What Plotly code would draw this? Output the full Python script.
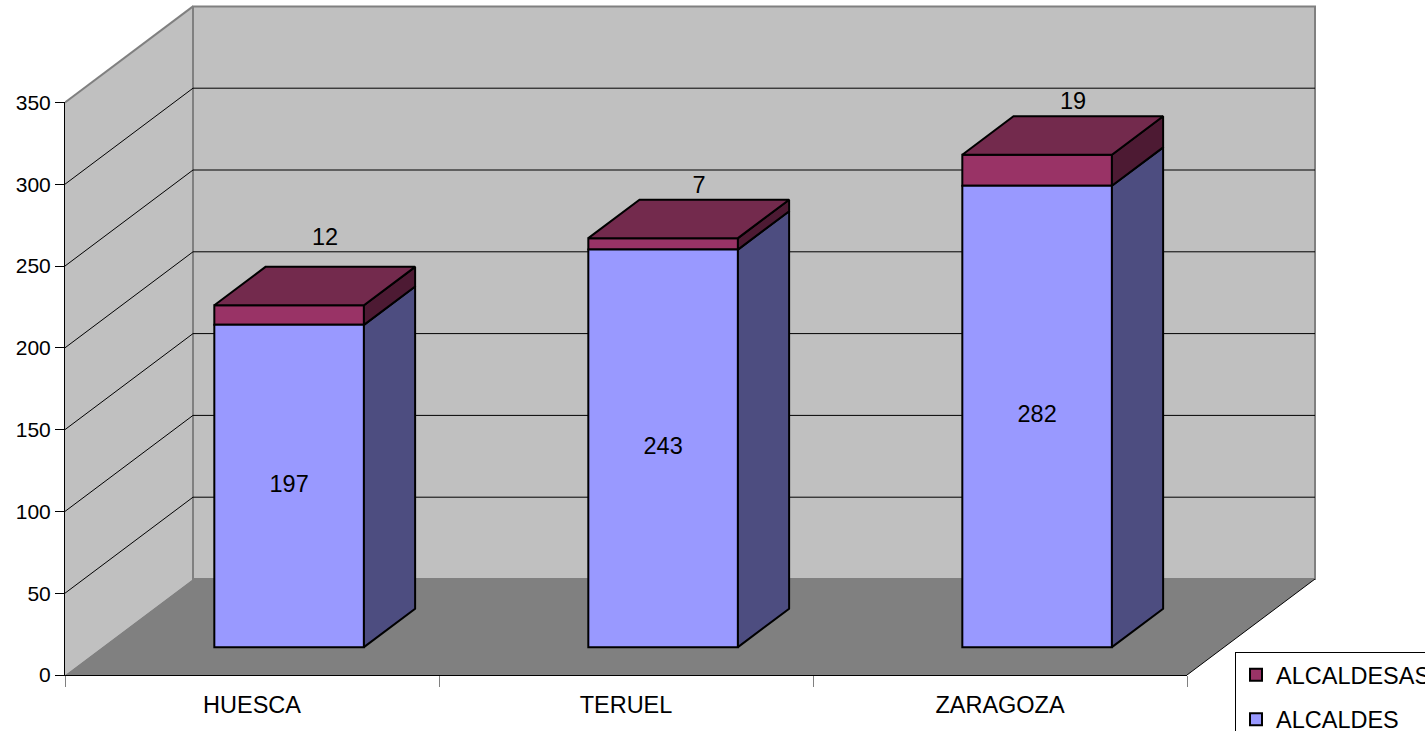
import plotly.graph_objects as go

# ---------------- data ----------------
categories = ["HUESCA", "TERUEL", "ZARAGOZA"]
alcaldes = [197, 243, 282]
alcaldesas = [12, 7, 19]
series_names = ["ALCALDES", "ALCALDESAS"]
y_ticks = [0, 50, 100, 150, 200, 250, 300, 350]
grid_vals = [50, 100, 150, 200, 250, 300]

# ---------------- geometry / style ----------------
W, H = 1425, 731
ML, MR, MT, MB = 65, 108, 4, 56
plot_w = W - ML - MR
plot_h = H - MT - MB
PXC = 374.0          # px per category
PXV = 1.636          # px per value unit
Dx = 128.0 / PXC     # full depth (x, category units)
Dy = 96.0 / PXV      # full depth (y, value units)
y_top = y_ticks[-1]
n = len(categories)
xr0, xr1 = -0.5, -0.5 + plot_w / PXC
yr0, yr1 = 0.0, plot_h / PXV
bw = 0.4
f0, f1 = 0.29, 0.69
ddx, ddy = (f1 - f0) * Dx, (f1 - f0) * Dy

FONT = "Liberation Sans, Arial, sans-serif"
FS = 23.5
C_ALC = "#9999ff"
C_ALC_SIDE = "#4d4d80"
C_ALS = "#993366"
C_ALS_SIDE = "#4d1a33"
C_ALS_TOP = "#732a4d"
lab_dx = 36.0 / PXC
lab_dy = 51.5 / PXV
label_nudge = [9.0, 0.0, 0.0]
inside_dy = 0.0

fig = go.Figure()

# ---------------- walls / floor (shapes below traces) ----------------
def path(pts):
    return "M " + " L ".join(f"{x},{y}" for x, y in pts) + " Z"

xl, xrgt = -0.5, n - 0.5
shapes = []
shapes.append(dict(type="path", xref="x", yref="y", layer="below",
                   path=path([(xl, 0), (xl, y_top), (xl + Dx, y_top + Dy), (xl + Dx, Dy)]),
                   fillcolor="#c0c0c0", line=dict(width=0)))
shapes.append(dict(type="path", xref="x", yref="y", layer="below",
                   path=path([(xl, 0), (xl + Dx, Dy), (xrgt + Dx, Dy), (xrgt, 0)]),
                   fillcolor="#808080", line=dict(width=0)))
shapes.append(dict(type="path", xref="x", yref="y", layer="below",
                   path=path([(xl + Dx, Dy), (xl + Dx, y_top + Dy), (xrgt + Dx, y_top + Dy), (xrgt + Dx, Dy)]),
                   fillcolor="#c0c0c0", line=dict(color="#808080", width=2)))
shapes.append(dict(type="line", xref="x", yref="y", layer="below",
                   x0=xl, y0=y_top, x1=xl + Dx, y1=y_top + Dy,
                   line=dict(color="#808080", width=2)))
shapes.append(dict(type="line", xref="x", yref="y", layer="below",
                   x0=xrgt, y0=0, x1=xrgt + Dx, y1=Dy,
                   line=dict(color="#000000", width=1)))
for v in grid_vals:
    shapes.append(dict(type="line", xref="x", yref="y", layer="below",
                       x0=xl, y0=v, x1=xl + Dx, y1=v + Dy,
                       line=dict(color="#000000", width=1)))
    shapes.append(dict(type="line", xref="x", yref="y", layer="below",
                       x0=xl + Dx, y0=v + Dy, x1=xrgt + Dx, y1=v + Dy,
                       line=dict(color="#000000", width=1)))

# ---------------- bars: front faces ----------------
xs_front = [i + f0 * Dx for i in range(n)]
base_alc = [f0 * Dy] * n
base_als = [f0 * Dy + a for a in alcaldes]

fig.add_trace(go.Bar(
    x=xs_front, y=alcaldesas, base=base_als, width=bw, name=series_names[1],
    marker=dict(color=C_ALS, line=dict(color="black", width=2)),
    textposition="none", legendgroup="b", hoverinfo="skip"))
fig.add_trace(go.Bar(
    x=xs_front, y=alcaldes, base=base_alc, width=bw, name=series_names[0],
    marker=dict(color=C_ALC, line=dict(color="black", width=2)),
    textposition="none", legendgroup="a", hoverinfo="skip"))

# ---------------- bars: side and top faces ----------------
def add_faces(polys, color):
    xs, ys = [], []
    for p in polys:
        for x, y in p:
            xs.append(x); ys.append(y)
        xs.append(p[0][0]); ys.append(p[0][1])
        xs.append(None); ys.append(None)
    fig.add_trace(go.Scatter(x=xs, y=ys, mode="lines", fill="toself", fillcolor=color,
                             line=dict(color="black", width=2), showlegend=False,
                             hoverinfo="skip", cliponaxis=False))

side1, side2, top2 = [], [], []
for i in range(n):
    x0 = xs_front[i] - bw / 2
    x1 = x0 + bw
    b = base_alc[i]
    t1 = b + alcaldes[i]
    t2 = t1 + alcaldesas[i]
    side1.append([(x1, b), (x1 + ddx, b + ddy), (x1 + ddx, t1 + ddy), (x1, t1)])
    side2.append([(x1, t1), (x1 + ddx, t1 + ddy), (x1 + ddx, t2 + ddy), (x1, t2)])
    top2.append([(x0, t2), (x0 + ddx, t2 + ddy), (x1 + ddx, t2 + ddy), (x1, t2)])
add_faces(side1, C_ALC_SIDE)
add_faces(side2, C_ALS_SIDE)
add_faces(top2, C_ALS_TOP)

# value labels inside ALCALDES front faces
fig.add_trace(go.Scatter(
    x=xs_front,
    y=[base_alc[i] + alcaldes[i] / 2 + inside_dy for i in range(n)],
    text=[str(v) for v in alcaldes], mode="text",
    textfont=dict(size=FS, color="black", family=FONT),
    showlegend=False, hoverinfo="skip", cliponaxis=False))

# value labels above ALCALDESAS
fig.add_trace(go.Scatter(
    x=[xs_front[i] + lab_dx for i in range(n)],
    y=[base_als[i] + alcaldesas[i] + lab_dy + label_nudge[i] for i in range(n)],
    text=[str(v) for v in alcaldesas], mode="text",
    textfont=dict(size=FS, color="black", family=FONT),
    showlegend=False, hoverinfo="skip", cliponaxis=False))

fig.add_trace(go.Scatter(x=[], y=[], xaxis="x2", yaxis="y2", showlegend=False, hoverinfo="skip"))
fig.add_trace(go.Scatter(x=[], y=[], xaxis="x3", yaxis="y2", showlegend=False, hoverinfo="skip"))

xdom_end = n * PXC / plot_w
ydom_end = y_top * PXV / plot_h

fig.update_layout(
    width=W, height=H,
    margin=dict(l=ML, r=MR, t=MT, b=MB, autoexpand=False),
    paper_bgcolor="white", plot_bgcolor="rgba(0,0,0,0)",
    barmode="overlay",
    font=dict(family=FONT, size=FS, color="black"),
    shapes=shapes,
    xaxis=dict(range=[xr0, xr1], visible=False, domain=[0, 1], fixedrange=True),
    yaxis=dict(range=[yr0, yr1], visible=False, domain=[0, 1], fixedrange=True),
    xaxis2=dict(domain=[0, xdom_end], anchor="y2", range=[-0.5, n - 0.5],
                tickvals=[i - 0.5 for i in range(n + 1)], ticktext=[""] * (n + 1),
                ticks="outside", ticklen=11, tickcolor="#808080", tickwidth=1,
                showline=True, linecolor="black", linewidth=1,
                showgrid=False, zeroline=False, fixedrange=True),
    xaxis3=dict(domain=[0, xdom_end], anchor="y2", overlaying="x2", range=[-0.5, n - 0.5],
                tickvals=list(range(n)), ticktext=categories, ticks="",
                ticklabelstandoff=13, showline=False, showgrid=False, zeroline=False,
                tickfont=dict(size=FS, family=FONT, color="black"), fixedrange=True),
    yaxis2=dict(domain=[0, ydom_end], anchor="x2", range=[0, y_top],
                tickvals=y_ticks, ticks="outside", ticklen=9, tickcolor="black", tickwidth=1,
                showline=True, linecolor="black", linewidth=1,
                showgrid=False, zeroline=False,
                tickfont=dict(size=21, family=FONT, color="black"), fixedrange=True),
    legend=dict(x=(1235 - ML) / plot_w, y=(675 - 652) / plot_h, xanchor="left", yanchor="top",
                bgcolor="white", bordercolor="black", borderwidth=1,
                font=dict(size=FS, family=FONT, color="black"),
                tracegroupgap=11, traceorder="grouped"),
    showlegend=True,
)

fig.write_html("out.html", config={"displayModeBar": False},
               post_script="document.body.style.margin='0';document.body.style.padding='0';")
